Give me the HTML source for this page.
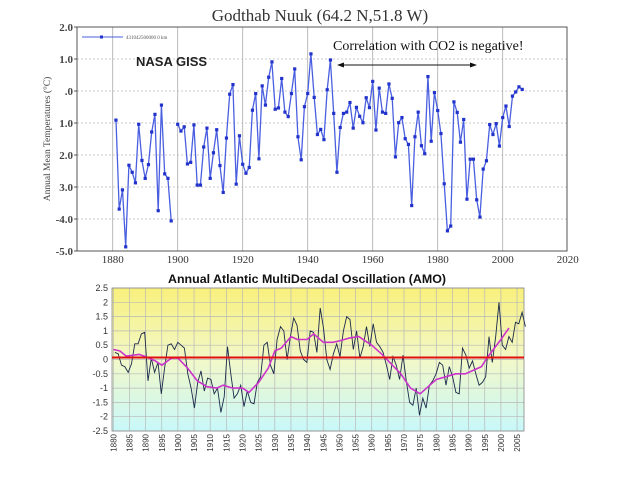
<!DOCTYPE html>
<html><head><meta charset="utf-8"><style>
html,body{margin:0;padding:0;background:#fff;width:640px;height:480px;overflow:hidden}
svg{display:block}
</style></head><body>
<svg id="svg" width="640" height="480" xmlns="http://www.w3.org/2000/svg">
<defs>
<linearGradient id="amoBg" x1="0" y1="0" x2="0" y2="1">
<stop offset="0" stop-color="#f8f07c"/>
<stop offset="0.5" stop-color="#f2f8c8"/>
<stop offset="1" stop-color="#c8f8fa"/>
</linearGradient>
</defs>
<g id="top"></g>
<g id="bot"></g>
</svg>
<script>
// ---------- Top chart data ----------
const gYears = [1881,1882,1883,1884,1885,1886,1887,1888,1889,1890,1891,1892,1893,1894,1895,1896,1897,1898,
null,
1900,1901,1902,1903,1904,1905,1906,1907,1908,1909,1910,1911,1912,1913,1914,1915,1916,1917,1918,1919,
1920,1921,1922,1923,1924,1925,1926,1927,1928,1929,1930,1931,1932,1933,1934,1935,1936,1937,1938,1939,
1940,1941,1942,1943,1944,1945,1946,1947,1948,1949,1950,1951,1952,1953,1954,1955,1956,1957,1958,1959,
1960,1961,1962,1963,1964,1965,1966,1967,1968,1969,1970,1971,1972,1973,1974,1975,1976,1977,1978,1979,
1980,1981,1982,1983,1984,1985,1986,1987,1988,1989,1990,1991,1992,1993,1994,1995,1996,1997,1998,1999,
2000,2001,2002,2003,2004,2005,2006];
const gTemps = [-0.91,-3.69,-3.09,-4.87,-2.32,-2.54,-2.87,-1.04,-2.17,-2.73,-2.30,-1.28,-0.73,-3.74,-0.44,-2.59,-2.73,-4.06,
null,
-1.04,-1.25,-1.12,-2.28,-2.23,-1.06,-2.94,-2.94,-1.75,-1.16,-2.73,-1.93,-1.21,-2.33,-3.17,-1.47,-0.10,0.20,-2.91,-1.40,
-2.29,-2.57,-2.39,-0.60,-0.08,-2.12,0.16,-0.44,0.43,0.91,-0.57,-0.53,0.39,-0.66,-0.80,-0.08,0.69,-1.43,-2.15,-0.49,
-0.08,1.16,-0.20,-1.36,-1.20,-1.52,0.04,0.97,-0.70,-2.54,-1.14,-0.70,-0.66,-0.36,-1.16,-0.51,-0.79,-0.99,-0.21,-0.52,
0.30,-1.22,0.09,-0.66,-0.70,0.22,-0.23,-2.06,-0.99,-0.83,-1.49,-1.67,-3.58,-1.43,-0.66,-1.71,-1.96,0.45,-1.57,-0.05,
-0.61,-1.33,-2.90,-4.37,-4.22,-0.34,-0.67,-1.60,-0.89,-3.38,-2.13,-2.13,-3.40,-3.94,-2.44,-2.18,-1.05,-1.36,-1.02,-1.72,
-0.83,-0.47,-1.11,-0.16,-0.03,0.13,0.05];
const gXTicks = [1880,1900,1920,1940,1960,1980,2000,2020];
const gYTicks = [2,1,0,-1,-2,-3,-4,-5];
const gYLabels = ["2.0","1.0",".0","1.0","2.0","3.0","-4.0","-5.0"];

// ---------- Bottom chart data ----------
const amoStart = 1880.5, amoStep = 1.025;
const amoValues = [0.25,0.2,-0.2,-0.25,-0.45,-0.15,0.55,0.55,0.9,0.95,-0.75,0.05,-0.45,-0.1,-1.2,-0.3,0.5,0.55,0.35,0.6,
0.5,0.4,-0.5,-1.0,-1.7,-0.8,-0.4,-1.1,-0.65,-0.7,-1.2,-1.0,-1.85,-1.3,0.45,-0.5,-1.35,-1.2,-0.9,-1.65,
-1.1,-1.5,-1.55,-0.8,-0.6,0.5,0.6,-0.2,-0.5,0.7,1.15,1.0,0.0,0.8,1.45,1.2,0.3,0.0,-0.1,1.0,
0.95,0.25,1.8,1.1,0.0,-0.35,0.2,0.55,0.1,1.0,1.5,1.4,0.35,1.0,0.05,0.45,1.15,0.45,1.25,0.6,
0.45,0.25,-0.2,-0.7,0.1,-0.2,-0.7,0.15,-0.75,-1.5,-1.6,-1.0,-1.95,-1.35,-1.7,-0.9,-0.75,-0.5,-0.1,-0.2,
-0.9,-0.25,-0.6,-1.15,-1.2,0.4,0.15,-0.3,-0.05,-0.5,-0.9,-0.8,-0.6,0.8,-0.1,0.8,2.0,0.5,0.35,0.8,
0.6,1.3,1.25,1.65,1.15];
const smoothYears = [1880,1882,1884,1888,1890,1893,1895,1898,1900,1903,1906,1909,1912,1914,1917,1920,1922,1925,1928,1930,1932,1935,1937,1940,1942,1945,1948,1950,1953,1956,1958,1960,1963,1966,1969,1972,1975,1978,1980,1983,1986,1989,1992,1994,1996,1998,2000,2002.5];
const smoothValues = [0.35,0.3,0.12,0.18,0.1,-0.05,-0.2,0.05,0.05,-0.3,-0.75,-0.95,-1.0,-0.9,-1.0,-1.0,-1.15,-0.8,-0.3,0.3,0.4,0.8,0.7,0.7,0.9,0.6,0.6,0.65,0.75,0.8,0.65,0.5,0.2,-0.15,-0.5,-1.0,-1.2,-0.9,-0.7,-0.6,-0.5,-0.5,-0.35,-0.25,0.1,0.4,0.7,1.1];
const refLevel = 0.07;
const amoYTicks = [2.5,2,1.5,1,0.5,0,-0.5,-1,-1.5,-2,-2.5];
const amoYLabels = ["2.5","2","1.5","1","0.5","0","-0.5","-1","-1.5","-2","-2.5"];
const amoXTicks = [1880,1885,1890,1895,1900,1905,1910,1915,1920,1925,1930,1935,1940,1945,1950,1955,1960,1965,1970,1975,1980,1985,1990,1995,2000,2005];

const NS = "http://www.w3.org/2000/svg";
function mk(parent, tag, attrs, text){
  const e = document.createElementNS(NS, tag);
  for (const k in attrs) e.setAttribute(k, attrs[k]);
  if (text !== undefined) e.textContent = text;
  parent.appendChild(e);
  return e;
}

// ---------- Top chart ----------
(function(){
  const g = document.getElementById('top');
  const L=77, R=567, T=27, B=251;
  const gx = y => 112.7 + (y-1880)*3.25;
  const gy = v => 27 + (2-v)*32;
  let e;
  e = mk(g,'text',{x:320,y:21,'text-anchor':'middle','font-family':'Liberation Serif, serif','font-size':17,fill:'#333'},'Godthab Nuuk (64.2 N,51.8 W)');
   
  gXTicks.forEach(t=>{
    if (t<2020) { e = mk(g,'line',{x1:gx(t),x2:gx(t),y1:T,y2:B,stroke:'#aaa','stroke-width':0.8});
        }
    e = mk(g,'text',{x:gx(t),y:263,'text-anchor':'middle','font-family':'Liberation Serif, serif','font-size':11,fill:'#333'},String(t));
     
  });
  gYTicks.forEach((t,i)=>{
    if (t<2 && t>-5){ e = mk(g,'line',{x1:L,x2:R,y1:gy(t),y2:gy(t),stroke:'#bbb','stroke-width':0.8,'stroke-dasharray':'2,2'});
        }
    e = mk(g,'line',{x1:L-3,x2:L,y1:gy(t),y2:gy(t),stroke:'#555'});
     
    e = mk(g,'text',{x:L-4,y:gy(t)+4,'text-anchor':'end','font-family':'Liberation Serif, serif','font-size':11,'font-weight':'bold',fill:'#444'},gYLabels[i]);
     
  });
  e = mk(g,'rect',{x:L,y:T,width:R-L,height:B-T,fill:'none',stroke:'#555','stroke-width':1});
   
  e = mk(g,'text',{transform:'translate(50,139) rotate(-90)','text-anchor':'middle','font-family':'Liberation Serif, serif','font-size':9.5,fill:'#444'},'Annual Mean Temperatures (°C)');
   
  // line segments
  let d='', pen=false;
  gYears.forEach((y,i)=>{
    if (y===null){ pen=false; return; }
    d += (pen?'L':'M') + gx(y).toFixed(1) + ',' + gy(gTemps[i]).toFixed(1);
    pen=true;
  });
  e = mk(g,'path',{d:d,fill:'none',stroke:'#4a5fe0','stroke-width':1.3});
   
  gYears.forEach((y,i)=>{
    if (y===null) return;
    const m = mk(g,'rect',{x:gx(y)-1.6,y:gy(gTemps[i])-1.6,width:3.2,height:3.2,fill:'#2233cc'});
     
  });
  // legend
  e = mk(g,'line',{x1:82,x2:123,y1:37,y2:37,stroke:'#4a5fe0','stroke-width':1});
   
  e = mk(g,'rect',{x:100,y:35.5,width:3,height:3,fill:'#2233cc'});
   
  e = mk(g,'text',{x:126,y:39,'font-family':'Liberation Serif, serif','font-size':5,fill:'#555'},'431042500000  0 km');
   
  e = mk(g,'text',{x:136,y:66,'font-family':'Liberation Sans, sans-serif','font-size':13,'font-weight':'bold',fill:'#222'},'NASA GISS');
   
  e = mk(g,'text',{x:333,y:50,'font-family':'Liberation Serif, serif','font-size':14,fill:'#111'},'Correlation with CO2 is negative!');
   
  e = mk(g,'line',{x1:342,x2:473,y1:65,y2:65,stroke:'#111','stroke-width':1});
   
  mk(g,'path',{d:'M337,65 L344,62.5 L344,67.5 Z',fill:'#111'});
  mk(g,'path',{d:'M477,65 L470,62.5 L470,67.5 Z',fill:'#111'});
})();

// ---------- Bottom chart ----------
(function(){
  const g = document.getElementById('bot');
  const L=112, R=524, T=288, B=431;
  const ax = y => 113.3 + (y-1880)*3.23;
  const ay = v => 359.5 - v*28.6;
  let e;
  e = mk(g,'text',{x:307,y:283,'text-anchor':'middle','font-family':'Liberation Sans, sans-serif','font-size':12,'font-weight':'bold',fill:'#111',textLength:278,lengthAdjust:'spacingAndGlyphs'},'Annual Atlantic MultiDecadal Oscillation (AMO)');
   
  e = mk(g,'rect',{x:L,y:T,width:R-L,height:B-T,fill:'url(#amoBg)'});
   
  amoXTicks.forEach(t=>{
    e = mk(g,'line',{x1:ax(t),x2:ax(t),y1:T,y2:B,stroke:'#b8b8b8','stroke-width':0.7});
     
    e = mk(g,'text',{transform:`translate(${ax(t)+3},${B+3}) rotate(-90)`,'text-anchor':'end','font-family':'Liberation Sans, sans-serif','font-size':8,fill:'#333'},String(t));
     
  });
  amoYTicks.forEach((t,i)=>{
    e = mk(g,'line',{x1:L,x2:R,y1:ay(t),y2:ay(t),stroke:'#b8b8b8','stroke-width':0.7});
     
    e = mk(g,'text',{x:L-4,y:ay(t)+3,'text-anchor':'end','font-family':'Liberation Sans, sans-serif','font-size':9,fill:'#333'},amoYLabels[i]);
     
  });
  e = mk(g,'rect',{x:L,y:T,width:R-L,height:B-T,fill:'none',stroke:'#888','stroke-width':0.8});
   
  let d='';
  amoValues.forEach((v,i)=>{ d += (i?'L':'M') + ax(amoStart+i*amoStep).toFixed(1)+','+ay(v).toFixed(1); });
  e = mk(g,'path',{d:d,fill:'none',stroke:'#1a2a4a','stroke-width':0.9});
   
  let d2='';
  smoothYears.forEach((y,i)=>{ d2 += (i?'L':'M') + ax(y).toFixed(1)+','+ay(smoothValues[i]).toFixed(1); });
  e = mk(g,'path',{d:d2,fill:'none',stroke:'#cc33cc','stroke-width':1.6,'stroke-linejoin':'round'});
   
  e = mk(g,'line',{x1:L,x2:R,y1:ay(refLevel),y2:ay(refLevel),stroke:'#e01010','stroke-width':2});
   
})();
</script>
</body></html>
